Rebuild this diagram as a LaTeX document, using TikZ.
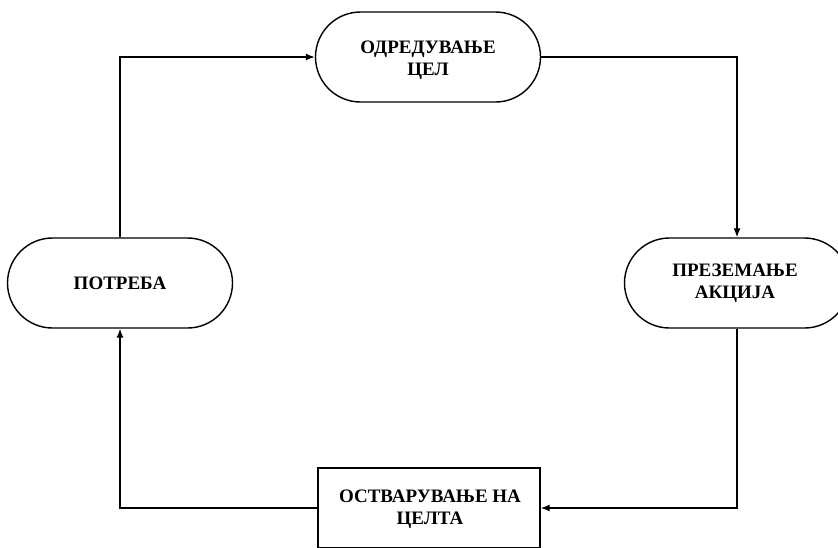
\documentclass[tikz,border=0pt]{standalone}
\usepackage{fontspec}
\setmainfont{Liberation Serif}
\usetikzlibrary{shapes.misc,arrows.meta}
\begin{document}
\begin{tikzpicture}[x=1pt,y=-1pt,
  stadium/.style={rounded rectangle, draw=black, line width=1.4pt, minimum width=225pt, minimum height=90pt, inner sep=0pt, align=center, font=\fontsize{19}{22}\selectfont\bfseries},
  rectbox/.style={rectangle, draw=black, line width=1.4pt, minimum width=222pt, minimum height=80pt, inner sep=0pt},
  lbl/.style={align=center, font=\fontsize{19}{22}\selectfont\bfseries},
  arr/.style={line width=1.3pt, -{Latex[length=9pt,width=7pt]}}]
\useasboundingbox (0,0) rectangle (838,547);
\clip (0,0) rectangle (838,547);
\fill[white] (0,0) rectangle (838,547);
\node[stadium] (odr) at (428,57) {};
\node[lbl] (odrt) at (428,60) {ОДРЕДУВАЊЕ\\ЦЕЛ};
\node[stadium] (pot) at (120,283) {ПОТРЕБА};
\node[stadium] (prez) at (737,283) {};
\node[lbl] (prezt) at (735,283) {ПРЕЗЕМАЊЕ\\АКЦИЈА};
\node[rectbox] (ostv) at (429,508) {};
\node[lbl] (ostvt) at (430,509) {ОСТВАРУВАЊЕ НА\\ЦЕЛТА};
\draw[arr] (pot.north) |- (odr.west);
\draw[arr] (odr.east) -| (prez.north);
\draw[arr] (prez.south) |- (ostv.east);
\draw[arr] (ostv.west) -| (pot.south);
\end{tikzpicture}
\end{document}
